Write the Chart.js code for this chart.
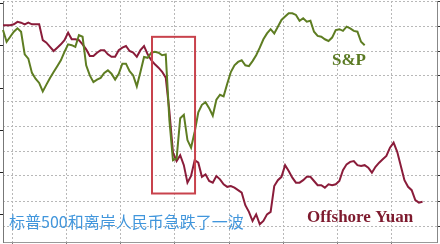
<!DOCTYPE html>
<html>
<head>
<meta charset="utf-8">
<script src="https://cdn.jsdelivr.net/npm/chart.js@4"></script>
<style>
html,body{margin:0;padding:0;background:#fff;}
#wrap{width:440px;height:244px;}
</style>
</head>
<body>
<div id="wrap"><canvas id="c" width="440" height="244"></canvas></div>
<script>
// ---- data ----
const days = Array.from({length: 121}, (_, i) => i); // trading-day index (category)
const spValues = [
 2119,2105,2111,2117,2121,2117,2090,2085,2068,2061,
 2056,2046,2054,2062,2069,2076,2083,2093,2102,2101,
 2099,2113,2111,2077,2065,2057,2060,2062,2068,2071,
 2067,2060,2067,2079,2079,2070,2065,2052,2069,2087,
 2086,2092,2093,2092,2089,2090,2012,1964,1966,2014,
 2018,1988,1979,1998,2021,2030,2033,2026,2017,2036,
 2042,2040,2055,2069,2077,2081,2083,2077,2076,2082,
 2089,2098,2108,2115,2120,2115,2123,2131,2135,2139,
 2139,2137,2130,2133,2129,2130,2117,2112,2111,2108,
 2106,2110,2119,2120,2118,2123,2121,2118,2117,2105,
 2101
];
const cnhValues = [
 6.209,6.209,6.209,6.208,6.205,6.206,6.208,6.206,6.208,6.208,
 6.208,6.227,6.230,6.235,6.240,6.236,6.232,6.227,6.218,6.226,
 6.226,6.227,6.232,6.238,6.246,6.246,6.242,6.239,6.239,6.244,
 6.247,6.247,6.239,6.236,6.234,6.240,6.242,6.247,6.239,6.234,
 6.244,6.251,6.256,6.260,6.265,6.272,6.312,6.362,6.372,6.365,
 6.377,6.398,6.390,6.371,6.374,6.391,6.388,6.396,6.398,6.390,
 6.394,6.400,6.403,6.402,6.404,6.407,6.410,6.425,6.433,6.444,
 6.436,6.448,6.444,6.436,6.433,6.402,6.395,6.391,6.377,6.384,
 6.392,6.398,6.398,6.395,6.391,6.391,6.396,6.401,6.401,6.404,
 6.400,6.401,6.400,6.396,6.383,6.376,6.373,6.372,6.377,6.378,
 6.377,6.380,6.386,6.379,6.374,6.370,6.366,6.356,6.350,6.361,
 6.378,6.395,6.403,6.407,6.419,6.422,6.421
];
const spTicks = [2150, 2100, 2050, 2000, 1950, 1900];
const cnhTicks = [6.18, 6.21, 6.24, 6.27, 6.30, 6.33, 6.36, 6.39, 6.42, 6.45];
const xGridTicks = [2.5, 17.5, 32.5, 47.5, 62.5, 77.5, 92.5, 107.5];
// highlighted period (x in day index, y in CNH units)
const boxDays = [41.2, 53.1];
const boxCnh = [6.223, 6.411];
const seriesNames = ['S&P', 'Offshore Yuan'];
const caption = '标普500和离岸人民币急跌了一波';

const overlay = {
  id: 'overlay',
  afterDatasetsDraw(chart) {
    const ctx = chart.ctx;
    const xs = chart.scales.x, ys = chart.scales.yCnh;
    ctx.save();
    // highlight box
    const x1 = xs.getPixelForValue(boxDays[0]), x2 = xs.getPixelForValue(boxDays[1]);
    const y1 = ys.getPixelForValue(boxCnh[0]), y2 = ys.getPixelForValue(boxCnh[1]);
    ctx.strokeStyle = '#c8424c';
    ctx.lineWidth = 2;
    ctx.strokeRect(x1, y1, x2 - x1, y2 - y1);
    // series labels
    ctx.font = 'bold 17px "Liberation Serif", "DejaVu Serif", serif';
    ctx.textBaseline = 'alphabetic';
    ctx.fillStyle = '#5b7a24';
    ctx.textAlign = 'center';
    ctx.fillText(seriesNames[0], 349, 65);
    ctx.fillStyle = '#7e1a2e';
    ctx.textAlign = 'left';
    ctx.fillText(seriesNames[1], 307, 222);
    // caption
    ctx.font = '16px "Noto Sans CJK SC", sans-serif';
    ctx.fillStyle = '#4196dc';
    ctx.fillText(caption, 9, 228);
    ctx.restore();
  }
};

new Chart(document.getElementById('c'), {
  type: 'line',
  data: {
    labels: days,
    datasets: [
      { label: seriesNames[0], data: spValues, yAxisID: 'ySp', borderColor: '#5e7d22',
        borderWidth: 2, pointRadius: 0, tension: 0, fill: false },
      { label: seriesNames[1], data: cnhValues, yAxisID: 'yCnh', borderColor: '#8a1c3a',
        borderWidth: 2, pointRadius: 0, tension: 0, fill: false }
    ]
  },
  options: {
    responsive: false,
    animation: false,
    devicePixelRatio: 1,
    layout: { padding: { top: 1, left: 0, right: 0, bottom: 0 } },
    plugins: { legend: { display: false }, tooltip: { enabled: false } },
    scales: {
      x: { type: 'category', display: false, offset: false },
      xGrid: {
        type: 'linear', position: 'bottom', min: 0, max: 120,
        afterBuildTicks(s) { s.ticks = xGridTicks.map(v => ({ value: v })); },
        ticks: { display: false },
        grid: { color: '#b8b8b8', lineWidth: 1, tickLength: 2, tickColor: '#777' },
        border: { color: '#999', width: 1, dash: [2, 2] }
      },
      yCnh: {
        type: 'linear', position: 'right', reverse: true, min: 6.18, max: 6.4692,
        afterBuildTicks(s) { s.ticks = cnhTicks.map(v => ({ value: v })); },
        ticks: { display: false },
        grid: { color: '#b8b8b8', lineWidth: 1, tickLength: 3, tickColor: '#333' },
        border: { color: '#888', width: 1, dash: [2, 2] }
      },
      ySp: {
        type: 'linear', position: 'left', min: 1866.67, max: 2153.57,
        afterBuildTicks(s) { s.ticks = spTicks.map(v => ({ value: v })); },
        ticks: { display: false },
        grid: { drawOnChartArea: false, tickLength: 3, tickColor: '#222' },
        border: { color: '#777', width: 1 }
      }
    }
  },
  plugins: [overlay]
});
</script>
</body>
</html>
